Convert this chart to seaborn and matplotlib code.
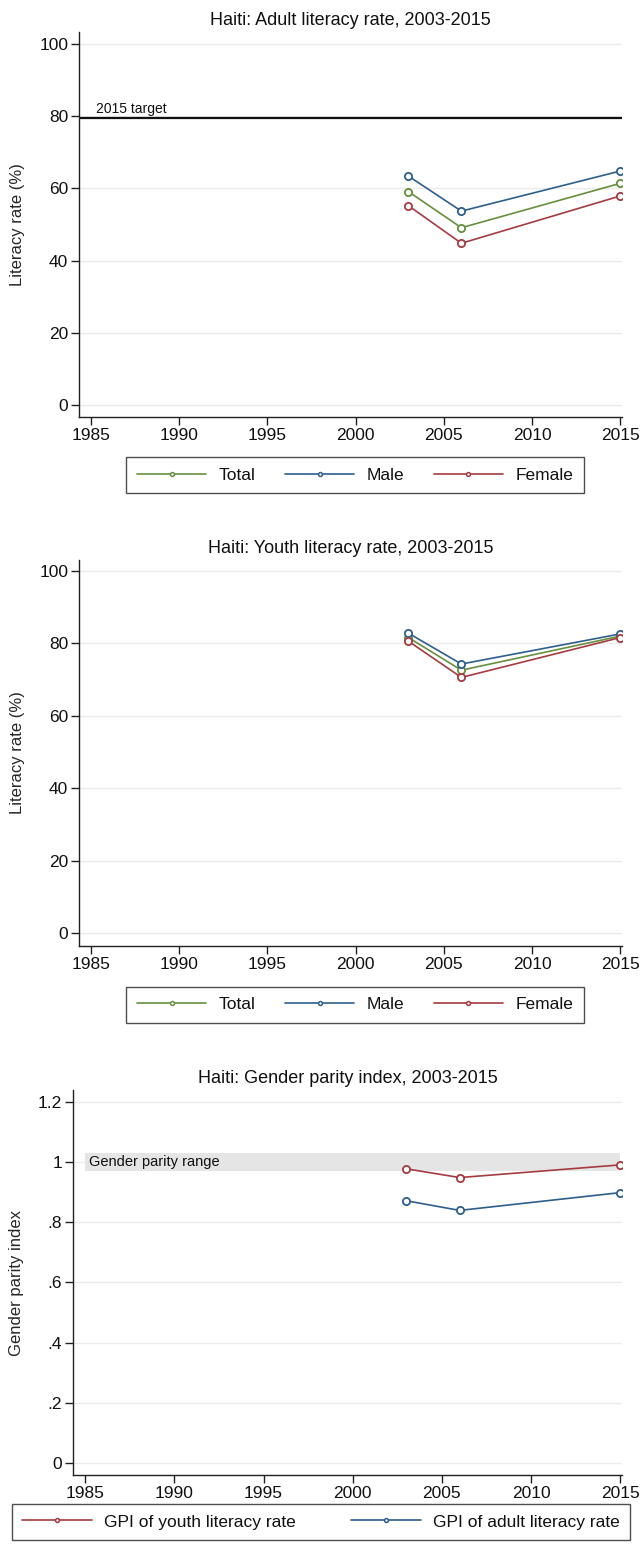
import numpy as np
import pandas as pd
import matplotlib
matplotlib.use("Agg")
import matplotlib.pyplot as plt
import seaborn as sns

# data
years = [2003, 2006, 2015]

adult_total = [59.1, 49.1, 61.4]
adult_male = [63.4, 53.7, 64.8]
adult_female = [55.2, 44.8, 57.9]

youth_total = [81.6, 72.6, 82.0]
youth_male = [82.8, 74.3, 82.6]
youth_female = [80.6, 70.6, 81.6]

gpi_youth = [0.977, 0.948, 0.990]
gpi_adult = [0.871, 0.839, 0.898]

target_2015 = 79.5
parity_low, parity_high = 0.97, 1.03

x_ticks = [1985, 1990, 1995, 2000, 2005, 2010, 2015]
gpi_ticks = [0, 0.2, 0.4, 0.6, 0.8, 1.0, 1.2]
gpi_tick_labels = ["0", ".2", ".4", ".6", ".8", "1", "1.2"]

GREEN = "#66903d"
BLUE = "#2e5f8c"
RED = "#a53b41"

sns.set_style("white")
plt.rcParams["font.family"] = ["Liberation Sans", "DejaVu Sans"]
plt.rcParams["axes.edgecolor"] = "#222222"
plt.rcParams["xtick.color"] = "#222222"
plt.rcParams["ytick.color"] = "#222222"
plt.rcParams["text.color"] = "#111111"

W, H = 642, 1551
fig = plt.figure(figsize=(W / 100, H / 100), dpi=100)


def px_axes(left, top, right, bottom):
    return fig.add_axes([left / W, 1 - bottom / H, (right - left) / W, (bottom - top) / H])


def style_axes(ax, ylim, yticks, ylabels, ylab, title, label_x):
    ax.set_xlim(1984.35, 2015.1)
    ax.set_ylim(*ylim)
    ax.set_xticks(x_ticks)
    ax.set_yticks(yticks)
    ax.set_yticklabels(ylabels)
    for s in ["top", "right"]:
        ax.spines[s].set_visible(False)
    for s in ["left", "bottom"]:
        ax.spines[s].set_linewidth(1.0)
    ax.tick_params(axis="both", which="major", length=6, width=1.0, labelsize=12.5,
                   direction="out", pad=2, left=True, bottom=True, labelcolor="#111111")
    ax.grid(axis="y", color="#ebebeb", linewidth=1.0)
    ax.set_axisbelow(True)
    ax.set_ylabel(ylab, fontsize=12)
    ax.yaxis.set_label_coords(label_x, 0.5)
    ax.set_xlabel("")
    ax.set_title(title, fontsize=13, pad=5)


def add_series(ax, vals, color, name):
    sns.lineplot(x=years, y=vals, ax=ax, color=color, marker="o", linewidth=1.2,
                 markersize=5.2, mec=color, mfc="white", mew=1.3, label=name)


def add_legend(ax, ncol, anchor_x, anchor_y, colspace):
    leg = ax.legend(loc="upper center", bbox_to_anchor=(anchor_x / W, 1 - anchor_y / H),
                    bbox_transform=fig.transFigure, ncol=ncol, frameon=True, fancybox=False,
                    edgecolor="#222222", fontsize=12.5, handlelength=4.0, handletextpad=0.7,
                    columnspacing=colspace, borderaxespad=0, borderpad=0.6)
    leg.get_frame().set_linewidth(1.0)
    for h in leg.legend_handles:
        h.set_markersize(2.8)
        h.set_markeredgewidth(1.1)
    return leg


lit_ticks = [0, 20, 40, 60, 80, 100]
lit_labels = [str(t) for t in lit_ticks]

# 1. adult literacy
ax1 = px_axes(79.3, 31.7, 622, 416.7)
ax1.axhline(target_2015, color="#111111", linewidth=1.6, zorder=1)
ax1.text(1985.3, target_2015 + 0.6, "2015 target", fontsize=10, va="bottom", ha="left")
add_series(ax1, adult_total, GREEN, "Total")
add_series(ax1, adult_male, BLUE, "Male")
add_series(ax1, adult_female, RED, "Female")
style_axes(ax1, (-3.24, 103.4), lit_ticks, lit_labels, "Literacy rate (%)",
           "Haiti: Adult literacy rate, 2003-2015", -0.100)
add_legend(ax1, 3, 355, 457.3, 1.7)

# 2. youth literacy
ax2 = px_axes(79.3, 560, 622, 946)
add_series(ax2, youth_total, GREEN, "Total")
add_series(ax2, youth_male, BLUE, "Male")
add_series(ax2, youth_female, RED, "Female")
style_axes(ax2, (-3.5, 103.0), lit_ticks, lit_labels, "Literacy rate (%)",
           "Haiti: Youth literacy rate, 2003-2015", -0.100)
add_legend(ax2, 3, 355, 986.7, 1.7)

# 3. gender parity index
ax3 = px_axes(73.3, 1090, 622, 1475)
ax3.fill_between([1985, 2015], parity_low, parity_high, color="#e5e5e5", linewidth=0, zorder=1)
ax3.text(1985.2, 1.0, "Gender parity range", fontsize=10.5, va="center", ha="left")
add_series(ax3, gpi_youth, RED, "GPI of youth literacy rate")
add_series(ax3, gpi_adult, BLUE, "GPI of adult literacy rate")
style_axes(ax3, (-0.039, 1.2385), gpi_ticks, gpi_tick_labels, "Gender parity index",
           "Haiti: Gender parity index, 2003-2015", -0.090)
ax3.set_xlim(1984.33, 2015.1)
add_legend(ax3, 2, 321, 1504, 3.2)

fig.savefig("out.png", dpi=100)
